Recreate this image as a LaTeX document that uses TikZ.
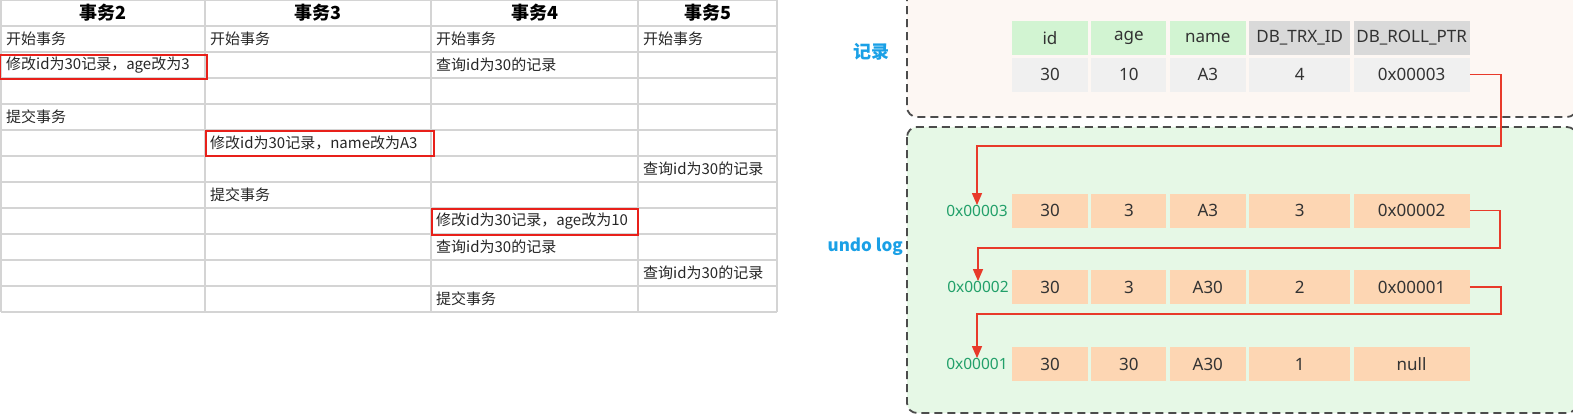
\documentclass[tikz,border=0pt]{standalone}
\usepackage{fontspec}
\setmainfont{Noto Sans CJK SC}
\newfontfamily\latinfont{Noto Sans}
\usetikzlibrary{arrows.meta,positioning}

\definecolor{gridgray}{HTML}{D4D4D4}
\definecolor{markred}{HTML}{E8201A}
\definecolor{ptrred}{HTML}{E83A2A}
\definecolor{recbg}{HTML}{FDF7F3}
\definecolor{undobg}{HTML}{E6F8E6}
\definecolor{colgreen}{HTML}{D2F4D2}
\definecolor{colgray}{HTML}{D9D9D9}
\definecolor{valgray}{HTML}{F0F0F0}
\definecolor{peach}{HTML}{FDD6B3}
\definecolor{addrgreen}{HTML}{22A06A}
\definecolor{labelblue}{HTML}{1AA0E6}

\begin{document}
\begin{tikzpicture}[x=1pt,y=-1pt,
	gridline/.style = {draw=gridgray, line width=1.2pt},
	head/.style = {font=\bfseries\fontsize{18}{20}\selectfont, inner sep=0pt},
	cell/.style = {anchor=west, font=\fontsize{15}{17}\selectfont, text=black!85, inner sep=0pt},
	markbox/.style = {draw=markred, line width=2.6pt},
	dashbox/.style = {draw=black!70, line width=1.8pt, dash pattern=on 8pt off 5pt, rounded corners=10pt},
	fld/.style = {minimum height=34pt, inner sep=0pt, font=\latinfont\fontsize{17}{19}\selectfont, text=black!80},
	addr/.style = {font=\latinfont\fontsize{15.5}{17}\selectfont, text=addrgreen, inner sep=0pt},
	side/.style = {font=\bfseries\fontsize{18}{20}\selectfont, text=labelblue, inner sep=0pt},
	ptr/.style = {draw=ptrred, line width=1.3pt, -{Triangle[width=10pt,length=12pt]}}]

	\useasboundingbox (0,0) rectangle (1573,416);

	% transaction table
	\foreach \y in {0,26,...,312} \draw[gridline] (1,\y) -- (777,\y);
	\foreach \x in {1,205,431,638,777} \draw[gridline] (\x,0) -- (\x,312);

	\node[head] (t2) at (103,13) {事务2};
	\node[head] (t3) at (318,13) {事务3};
	\node[head] (t4) at (534.5,13) {事务4};
	\node[head] (t5) at (707.5,13) {事务5};

	\node[cell] (a1) at (6,39) {开始事务};
	\node[cell] (b1) at (210,39) {开始事务};
	\node[cell] (c1) at (436,39) {开始事务};
	\node[cell] (d1) at (643,39) {开始事务};
	\node[cell] (a2) at (6,65) {修改id为30记录，age改为3};
	\node[cell] (c2) at (436,65) {查询id为30的记录};
	\node[cell] (a4) at (6,117) {提交事务};
	\node[cell] (b5) at (210,143) {修改id为30记录，name改为A3};
	\node[cell] (d6) at (643,169) {查询id为30的记录};
	\node[cell] (b7) at (210,195) {提交事务};
	\node[cell] (c8) at (436,221) {修改id为30记录，age改为10};
	\node[cell] (c9) at (436,247) {查询id为30的记录};
	\node[cell] (d10) at (643,273) {查询id为30的记录};
	\node[cell] (c11) at (436,299) {提交事务};

	\draw[markbox] (0,55) rectangle (207,79);
	\draw[markbox] (206,131) rectangle (434,156);
	\draw[markbox] (432,209) rectangle (638,235);

	% record and undo log
	\begin{scope}
	\clip (0,0) rectangle (1573,416);
	\draw[dashbox, fill=recbg] (907,-30) rectangle (1577,117);
	\draw[dashbox, fill=undobg] (907,127) rectangle (1577,413);
	\end{scope}

	\node[side] (rec) at (871,52) {记录};
	\node[side, anchor=east, font=\bfseries\fontsize{17}{19}\selectfont] (undo) at (903,247) {undo log};

	\node[fld, fill=colgreen, minimum width=76pt] (h-id) at (1050,38) {id};
	\node[fld, fill=colgreen, minimum width=75pt, right=3pt of h-id] (h-age) {age};
	\node[fld, fill=colgreen, minimum width=76pt, right=3pt of h-age] (h-name) {name};
	\node[fld, fill=colgray, minimum width=101pt, right=3pt of h-name] (h-trx) {DB\_TRX\_ID};
	\node[fld, fill=colgray, minimum width=116pt, right=3pt of h-trx] (h-ptr) {DB\_ROLL\_PTR};

	\node[fld, fill=valgray, minimum width=76pt] (r0-id) at (1050,74.5) {30};
	\node[fld, fill=valgray, minimum width=75pt, right=3pt of r0-id] (r0-age) {10};
	\node[fld, fill=valgray, minimum width=76pt, right=3pt of r0-age] (r0-name) {A3};
	\node[fld, fill=valgray, minimum width=101pt, right=3pt of r0-name] (r0-trx) {4};
	\node[fld, fill=valgray, minimum width=116pt, right=3pt of r0-trx] (r0-ptr) {0x00003};

	\node[fld, fill=peach, minimum width=76pt] (u3-id) at (1050,210.5) {30};
	\node[fld, fill=peach, minimum width=75pt, right=3pt of u3-id] (u3-age) {3};
	\node[fld, fill=peach, minimum width=76pt, right=3pt of u3-age] (u3-name) {A3};
	\node[fld, fill=peach, minimum width=101pt, right=3pt of u3-name] (u3-trx) {3};
	\node[fld, fill=peach, minimum width=116pt, right=3pt of u3-trx] (u3-ptr) {0x00002};

	\node[fld, fill=peach, minimum width=76pt] (u2-id) at (1050,287) {30};
	\node[fld, fill=peach, minimum width=75pt, right=3pt of u2-id] (u2-age) {3};
	\node[fld, fill=peach, minimum width=76pt, right=3pt of u2-age] (u2-name) {A30};
	\node[fld, fill=peach, minimum width=101pt, right=3pt of u2-name] (u2-trx) {2};
	\node[fld, fill=peach, minimum width=116pt, right=3pt of u2-trx] (u2-ptr) {0x00001};

	\node[fld, fill=peach, minimum width=76pt] (u1-id) at (1050,364) {30};
	\node[fld, fill=peach, minimum width=75pt, right=3pt of u1-id] (u1-age) {30};
	\node[fld, fill=peach, minimum width=76pt, right=3pt of u1-age] (u1-name) {A30};
	\node[fld, fill=peach, minimum width=101pt, right=3pt of u1-name] (u1-trx) {1};
	\node[fld, fill=peach, minimum width=116pt, right=3pt of u1-trx] (u1-ptr) {null};

	\node[addr] (addr3) at (977,211) {0x00003};
	\node[addr] (addr2) at (978,287) {0x00002};
	\node[addr] (addr1) at (977,364) {0x00001};

	\coordinate (k1) at (1501,146);
	\coordinate (k2) at (1500,248);
	\coordinate (k3) at (1501,314);
	\draw[ptr] (r0-ptr.east) -| (k1) -| (addr3.north);
	\draw[ptr] (u3-ptr.east) -| (k2) -| (addr2.north);
	\draw[ptr] (u2-ptr.east) -| (k3) -| (addr1.north);
\end{tikzpicture}
\end{document}
